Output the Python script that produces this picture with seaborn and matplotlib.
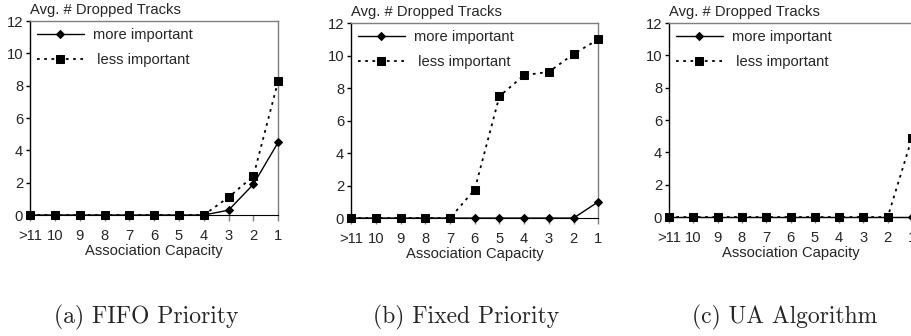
import numpy as np
import pandas as pd
import matplotlib
matplotlib.use("Agg")
import matplotlib.pyplot as plt
import seaborn as sns

#%% data

capacity = [">11", "10", "9", "8", "7", "6", "5", "4", "3", "2", "1"]

fifo_more = [0, 0, 0, 0, 0, 0, 0, 0, 0.3, 1.9, 4.5]
fifo_less = [0, 0, 0, 0, 0, 0, 0, 0, 1.1, 2.4, 8.3]

fixed_more = [0, 0, 0, 0, 0, 0, 0, 0, 0, 0, 1.0]
fixed_less = [0, 0, 0, 0, 0, 1.75, 7.5, 8.8, 9.0, 10.1, 11.0]

ua_more = [0, 0, 0, 0, 0, 0, 0, 0, 0, 0, 0]
ua_less = [0, 0, 0, 0, 0, 0, 0, 0, 0, 0, 4.9]

captions = ["(a) FIFO Priority", "(b) Fixed Priority", "(c) UA Algorithm"]

#%% style

sns.set_style("ticks")
plt.rcParams["font.family"] = ["Liberation Sans", "DejaVu Sans"]
fs = 10.6

fig = plt.figure(figsize=(9.12, 3.36), dpi=100)

# axes boxes in figure fractions (left, bottom, width, height)
boxes = [
    [0.033, 0.360, 0.272, 0.577],
    [0.385, 0.351, 0.271, 0.580],
    [0.7336, 0.354, 0.2664, 0.577],
]
caption_x = [0.160, 0.511, 0.860]

panels = [(fifo_more, fifo_less), (fixed_more, fixed_less), (ua_more, ua_less)]

pos = np.arange(len(capacity))

for box, (more, less), cap, cx in zip(boxes, panels, captions, caption_x):
    ax = fig.add_axes(box)
    df = pd.DataFrame({"pos": pos, "more": more, "less": less})

    sns.lineplot(data=df, x="pos", y="less", ax=ax, color="black",
                 linestyle=(0, (1.5, 2.5)), linewidth=1.3, marker="s",
                 markersize=5.5, markeredgecolor="black",
                 label=" less important", clip_on=False, zorder=3)
    sns.lineplot(data=df, x="pos", y="more", ax=ax, color="black",
                 linestyle="-", linewidth=1.0, marker="D", markersize=4,
                 markeredgecolor="black", label="more important",
                 clip_on=False, zorder=4)

    ax.set_xlim(0, len(capacity) - 1)
    ax.set_ylim(0, 12)
    ax.set_yticks(range(0, 13, 2))
    ax.set_xticks(pos, labels=capacity)

    for side in ["top", "right"]:
        ax.spines[side].set_color("#7f7f7f")
        ax.spines[side].set_linewidth(1.0)
    ax.spines["left"].set_color("black")
    ax.spines["bottom"].set_color("black")
    ax.spines["left"].set_linewidth(1.0)

    ax.tick_params(axis="x", direction="out", length=4, width=1,
                   color="#7f7f7f", pad=6, labelsize=fs)
    ax.tick_params(axis="y", direction="out", length=3, width=1,
                   color="black", pad=2, labelsize=fs)

    ax.set_xlabel("Association Capacity", fontsize=fs, labelpad=1)
    ax.set_ylabel("")
    ax.text(0.0, 1.036, "Avg. # Dropped Tracks", transform=ax.transAxes,
            ha="left", va="baseline", fontsize=fs)

    handles, labels = ax.get_legend_handles_labels()
    ax.legend(handles[::-1], labels[::-1], loc="upper left", frameon=False,
              handlelength=3.2, handletextpad=0.6, labelspacing=0.75,
              borderaxespad=0.05, fontsize=fs)

    fig.text(cx, 0.055, cap, family="cmr10", fontsize=17,
             ha="center", va="center")

fig.savefig("out.png", dpi=100)
